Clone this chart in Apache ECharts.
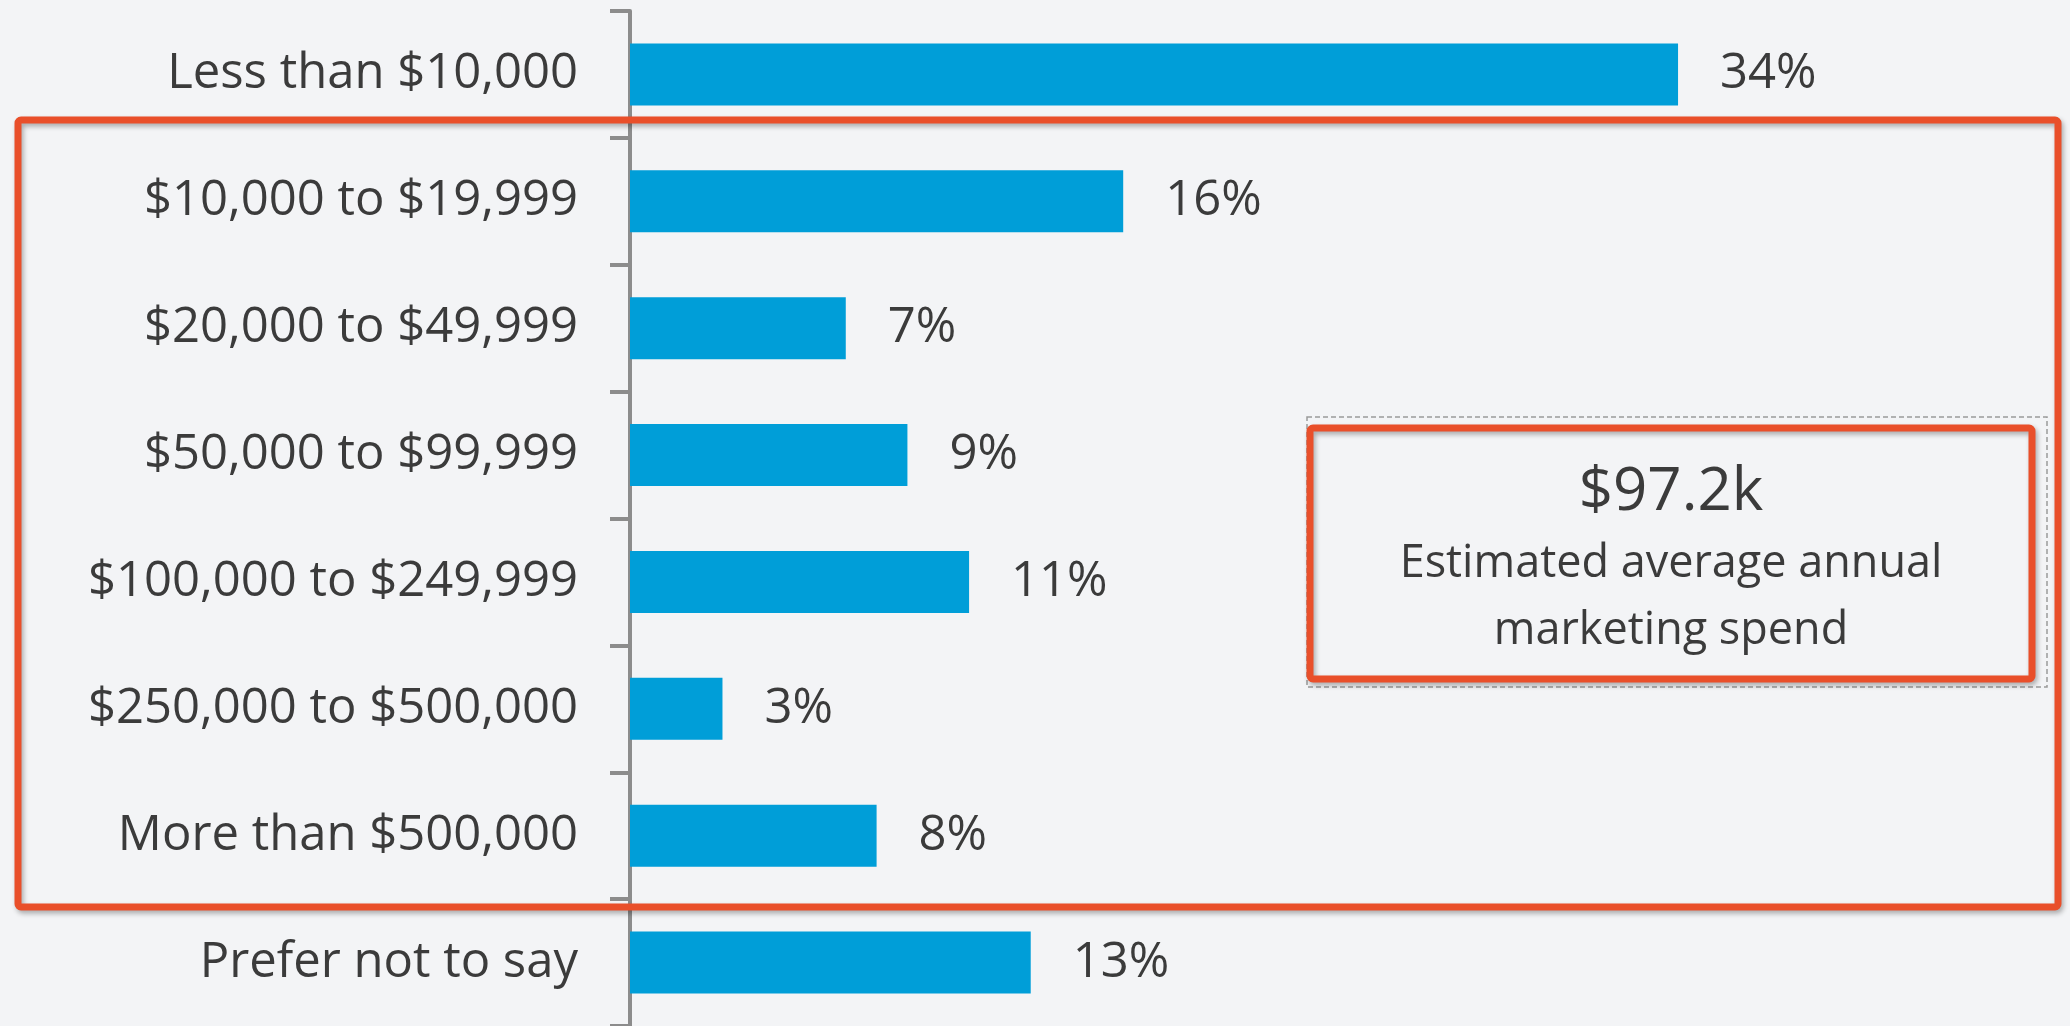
<!DOCTYPE html>
<html>
<head>
<meta charset="utf-8">
<script src="https://cdn.jsdelivr.net/npm/echarts@6/dist/echarts.min.js"></script>
<style>
  html, body { margin: 0; padding: 0; background: #f3f4f6; }
  #chart { width: 2070px; height: 1026px; }
</style>
</head>
<body>
<div id="chart"></div>
<script>
const categories = [
  'Less than $10,000',
  '$10,000 to $19,999',
  '$20,000 to $49,999',
  '$50,000 to $99,999',
  '$100,000 to $249,999',
  '$250,000 to $500,000',
  'More than $500,000',
  'Prefer not to say'
]
const shares = [34, 16, 7, 9, 11, 3, 8, 13]
const calloutValue = '$97.2k'
const calloutText = ['Estimated average annual', 'marketing spend']

const FONT = '"Open Sans", "Noto Sans", sans-serif'
const TEXT = '#3b3b3b'
const RED = '#e94f2a'

const chart = echarts.init(document.getElementById('chart'))

// red highlight boxes drawn on top of the chart
const redShadow = {
  shadowBlur: 5,
  shadowOffsetX: 2,
  shadowOffsetY: 3,
  shadowColor: 'rgba(0, 0, 0, 0.3)'
}

const option = {
  backgroundColor: '#f3f4f6',
  animation: false,
  grid: { left: 630, right: 207, top: 11, bottom: -2, containLabel: false },
  xAxis: {
    type: 'value',
    min: 0,
    max: 40,
    show: false
  },
  yAxis: {
    type: 'category',
    inverse: true,
    data: categories,
    axisLine: { show: true, lineStyle: { color: '#8c8c8c', width: 4 } },
    axisTick: { show: true, length: 20, lineStyle: { color: '#8c8c8c', width: 4 } },
    axisLabel: {
      color: TEXT,
      fontFamily: FONT,
      fontSize: 49,
      margin: 52
    },
    splitLine: { show: false }
  },
  series: [
    {
      type: 'bar',
      data: shares,
      barWidth: 62,
      itemStyle: { color: '#009ed8' },
      label: {
        show: true,
        position: 'right',
        distance: 42,
        color: TEXT,
        fontFamily: FONT,
        fontSize: 49,
        formatter: p => p.value + '%'
      },
      z: 2
    }
  ],
  graphic: [
    {
      type: 'rect',
      shape: { x: 18, y: 120, width: 2040, height: 787, r: 3 },
      style: Object.assign({ fill: 'transparent', stroke: RED, lineWidth: 7 }, redShadow),
      z: 100
    },
    {
      type: 'rect',
      shape: { x: 1307, y: 417, width: 740, height: 270 },
      style: { fill: 'transparent', stroke: '#9a9a9a', lineWidth: 1.5, lineDash: [5, 3] },
      z: 100
    },
    {
      type: 'rect',
      shape: { x: 1310, y: 428, width: 722, height: 251, r: 3 },
      style: Object.assign({ fill: 'transparent', stroke: RED, lineWidth: 7 }, redShadow),
      z: 101
    },
    {
      type: 'text',
      x: 1671,
      y: 493,
      style: {
        text: calloutValue,
        fill: TEXT,
        font: '60px ' + FONT,
        textAlign: 'center',
        textVerticalAlign: 'middle'
      },
      z: 102
    },
    {
      type: 'text',
      x: 1671,
      y: 564,
      style: {
        text: calloutText[0],
        fill: TEXT,
        font: '45px ' + FONT,
        textAlign: 'center',
        textVerticalAlign: 'middle'
      },
      z: 102
    },
    {
      type: 'text',
      x: 1671,
      y: 631,
      style: {
        text: calloutText[1],
        fill: TEXT,
        font: '45px ' + FONT,
        textAlign: 'center',
        textVerticalAlign: 'middle'
      },
      z: 102
    }
  ]
}

chart.setOption(option)
</script>
</body>
</html>
